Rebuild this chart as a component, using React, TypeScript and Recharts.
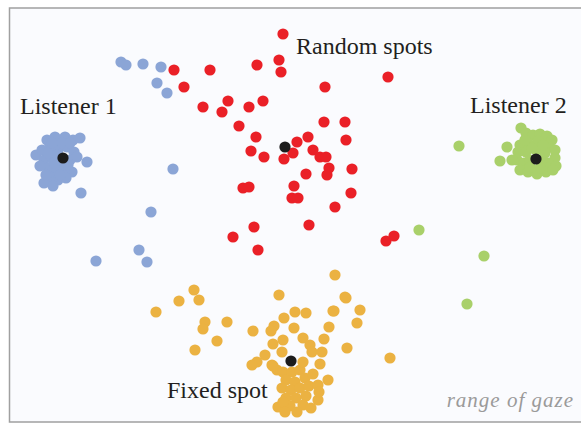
import { ScatterChart, Scatter, XAxis, YAxis, ReferenceArea } from "recharts";

// gaze positions, in the picture's own units (x right, y down)
const listener1 = [
  { x: 47, y: 140 }, { x: 55, y: 137 }, { x: 65, y: 137 }, { x: 73, y: 140 }, { x: 80, y: 138 },
  { x: 36, y: 155 }, { x: 42, y: 150 }, { x: 50, y: 147 }, { x: 58, y: 150 }, { x: 67, y: 147 },
  { x: 74, y: 152 }, { x: 44, y: 160 }, { x: 52, y: 158 }, { x: 60, y: 163 }, { x: 70, y: 160 },
  { x: 77, y: 157 }, { x: 87, y: 162 }, { x: 48, y: 168 }, { x: 56, y: 170 }, { x: 64, y: 170 },
  { x: 72, y: 172 }, { x: 50, y: 177 }, { x: 58, y: 180 }, { x: 44, y: 183 }, { x: 66, y: 178 },
  { x: 81, y: 193 }, { x: 53, y: 186 }, { x: 46, y: 175 }, { x: 54, y: 163 }, { x: 62, y: 143 },
  { x: 40, y: 166 }, { x: 68, y: 165 }, { x: 48, y: 153 }, { x: 57, y: 155 }, { x: 60, y: 175 },
  { x: 52, y: 143 }, { x: 70, y: 143 },
  { x: 121, y: 62 }, { x: 126, y: 65 }, { x: 143, y: 64 }, { x: 161, y: 67 }, { x: 157, y: 83 },
  { x: 167, y: 93 }, { x: 173, y: 169 }, { x: 151, y: 212 }, { x: 96, y: 261 }, { x: 139, y: 250 },
  { x: 147, y: 262 },
];

const listener2 = [
  { x: 521, y: 128 }, { x: 526, y: 133 }, { x: 533, y: 135 }, { x: 540, y: 134 }, { x: 547, y: 136 },
  { x: 552, y: 140 }, { x: 520, y: 145 }, { x: 528, y: 143 }, { x: 538, y: 141 }, { x: 548, y: 146 },
  { x: 555, y: 150 }, { x: 518, y: 152 }, { x: 526, y: 152 }, { x: 545, y: 153 }, { x: 555, y: 158 },
  { x: 517, y: 160 }, { x: 524, y: 163 }, { x: 548, y: 163 }, { x: 556, y: 166 }, { x: 520, y: 170 },
  { x: 528, y: 172 }, { x: 537, y: 174 }, { x: 546, y: 172 }, { x: 553, y: 170 }, { x: 530, y: 160 },
  { x: 542, y: 160 }, { x: 536, y: 150 }, { x: 530, y: 167 }, { x: 540, y: 168 }, { x: 532, y: 148 },
  { x: 543, y: 145 }, { x: 525, y: 140 },
  { x: 507, y: 147 }, { x: 500, y: 161 }, { x: 512, y: 160 },
  { x: 459, y: 146 }, { x: 419, y: 230 }, { x: 484, y: 256 }, { x: 467, y: 304 },
];

const randomSpots = [
  { x: 283, y: 34 }, { x: 257, y: 65 }, { x: 279, y: 60 }, { x: 281, y: 72 }, { x: 174, y: 70 },
  { x: 210, y: 70 }, { x: 184, y: 87 }, { x: 203, y: 107 }, { x: 222, y: 112 }, { x: 228, y: 101 },
  { x: 249, y: 107 }, { x: 263, y: 101 }, { x: 239, y: 126 }, { x: 256, y: 137 }, { x: 251, y: 151 },
  { x: 264, y: 157 }, { x: 284, y: 159 }, { x: 243, y: 188 }, { x: 249, y: 187 }, { x: 388, y: 77 },
  { x: 325, y: 87 }, { x: 324, y: 122 }, { x: 345, y: 122 }, { x: 346, y: 140 }, { x: 308, y: 137 },
  { x: 297, y: 142 }, { x: 293, y: 153 }, { x: 313, y: 150 }, { x: 320, y: 157 }, { x: 326, y: 157 },
  { x: 329, y: 168 }, { x: 327, y: 175 }, { x: 352, y: 169 }, { x: 306, y: 174 }, { x: 294, y: 186 },
  { x: 292, y: 198 }, { x: 298, y: 198 }, { x: 351, y: 193 }, { x: 335, y: 207 }, { x: 254, y: 227 },
  { x: 233, y: 237 }, { x: 258, y: 250 }, { x: 309, y: 225 }, { x: 386, y: 241 }, { x: 394, y: 236 },
];

const fixedSpot = [
  { x: 194, y: 290 }, { x: 179, y: 301 }, { x: 199, y: 300 }, { x: 156, y: 312 }, { x: 205, y: 322 },
  { x: 203, y: 329 }, { x: 227, y: 322 }, { x: 217, y: 341 }, { x: 195, y: 350 }, { x: 253, y: 331 },
  { x: 279, y: 295 }, { x: 284, y: 318 }, { x: 274, y: 326 }, { x: 271, y: 331 }, { x: 273, y: 344 },
  { x: 283, y: 340 }, { x: 265, y: 355 }, { x: 257, y: 362 }, { x: 252, y: 365 }, { x: 272, y: 365 },
  { x: 277, y: 370 }, { x: 278, y: 407 }, { x: 295, y: 312 }, { x: 306, y: 313 }, { x: 294, y: 328 },
  { x: 303, y: 338 }, { x: 310, y: 345 }, { x: 312, y: 352 }, { x: 322, y: 352 }, { x: 324, y: 339 },
  { x: 329, y: 327 }, { x: 334, y: 311 }, { x: 345, y: 297 }, { x: 347, y: 348 }, { x: 335, y: 275 },
  { x: 346, y: 298 }, { x: 333, y: 311 }, { x: 360, y: 310 }, { x: 357, y: 323 }, { x: 390, y: 358 },
  { x: 328, y: 380 }, { x: 282, y: 352 }, { x: 273, y: 366 },
  { x: 283, y: 372 }, { x: 292, y: 372 }, { x: 300, y: 370 }, { x: 286, y: 380 }, { x: 295, y: 382 },
  { x: 305, y: 378 }, { x: 313, y: 374 }, { x: 282, y: 388 }, { x: 291, y: 390 }, { x: 300, y: 388 },
  { x: 309, y: 386 }, { x: 318, y: 385 }, { x: 286, y: 398 }, { x: 296, y: 398 }, { x: 306, y: 396 },
  { x: 318, y: 400 }, { x: 290, y: 406 }, { x: 303, y: 405 }, { x: 311, y: 408 }, { x: 283, y: 402 },
  { x: 297, y: 412 }, { x: 285, y: 412 }, { x: 319, y: 392 }, { x: 320, y: 364 }, { x: 303, y: 362 },
];

const centers = [
  { x: 63, y: 158 },
  { x: 536, y: 159 },
  { x: 285, y: 147 },
  { x: 291, y: 361 },
];

const labels = [
  { text: "Listener 1", x: 20, y: 114 },
  { text: "Random spots", x: 296, y: 54 },
  { text: "Listener 2", x: 470, y: 113 },
  { text: "Fixed spot", x: 167, y: 398 },
];

const dot = (color: string) => (props: any) =>
  <circle cx={props.cx} cy={props.cy} r={5.6} fill={color} />;

export default function App() {
  return (
    <div style={{ position: "absolute", left: 0, top: 0, width: 581, height: 424, background: "#fff" }}>
      <ScatterChart width={581} height={424} margin={{ top: 0, right: 0, bottom: 0, left: 0 }}>
        <XAxis type="number" dataKey="x" domain={[0, 581]} hide />
        <YAxis type="number" dataKey="y" domain={[0, 424]} reversed hide />
        <ReferenceArea
          x1={9.5}
          x2={620}
          y1={8}
          y2={422}
          fill="#fafbfe"
          fillOpacity={1}
          stroke="#a0a0a0"
          strokeWidth={1.5}
          ifOverflow="visible"
        />
        <Scatter data={listener1} shape={dot("#8ba5d6")} isAnimationActive={false} />
        <Scatter data={listener2} shape={dot("#a9d06a")} isAnimationActive={false} />
        <Scatter data={randomSpots} shape={dot("#ea2027")} isAnimationActive={false} />
        <Scatter data={fixedSpot} shape={dot("#ebb242")} isAnimationActive={false} />
        <Scatter data={centers} shape={dot("#1c1c1c")} isAnimationActive={false} />
      </ScatterChart>
      <svg
        width={581}
        height={424}
        style={{ position: "absolute", left: 0, top: 0, pointerEvents: "none" }}
      >
        {labels.map((l) => (
          <text
            key={l.text}
            x={l.x}
            y={l.y}
            fontFamily="'Liberation Serif', serif"
            fontSize={24}
            fill="#231f20"
          >
            {l.text}
          </text>
        ))}
        <text
          x={574}
          y={407}
          textAnchor="end"
          fontFamily="'Liberation Serif', serif"
          fontStyle="italic"
          fontSize={21}
          letterSpacing={1}
          fill="#9a9a9a"
        >
          range of gaze
        </text>
      </svg>
    </div>
  );
}
